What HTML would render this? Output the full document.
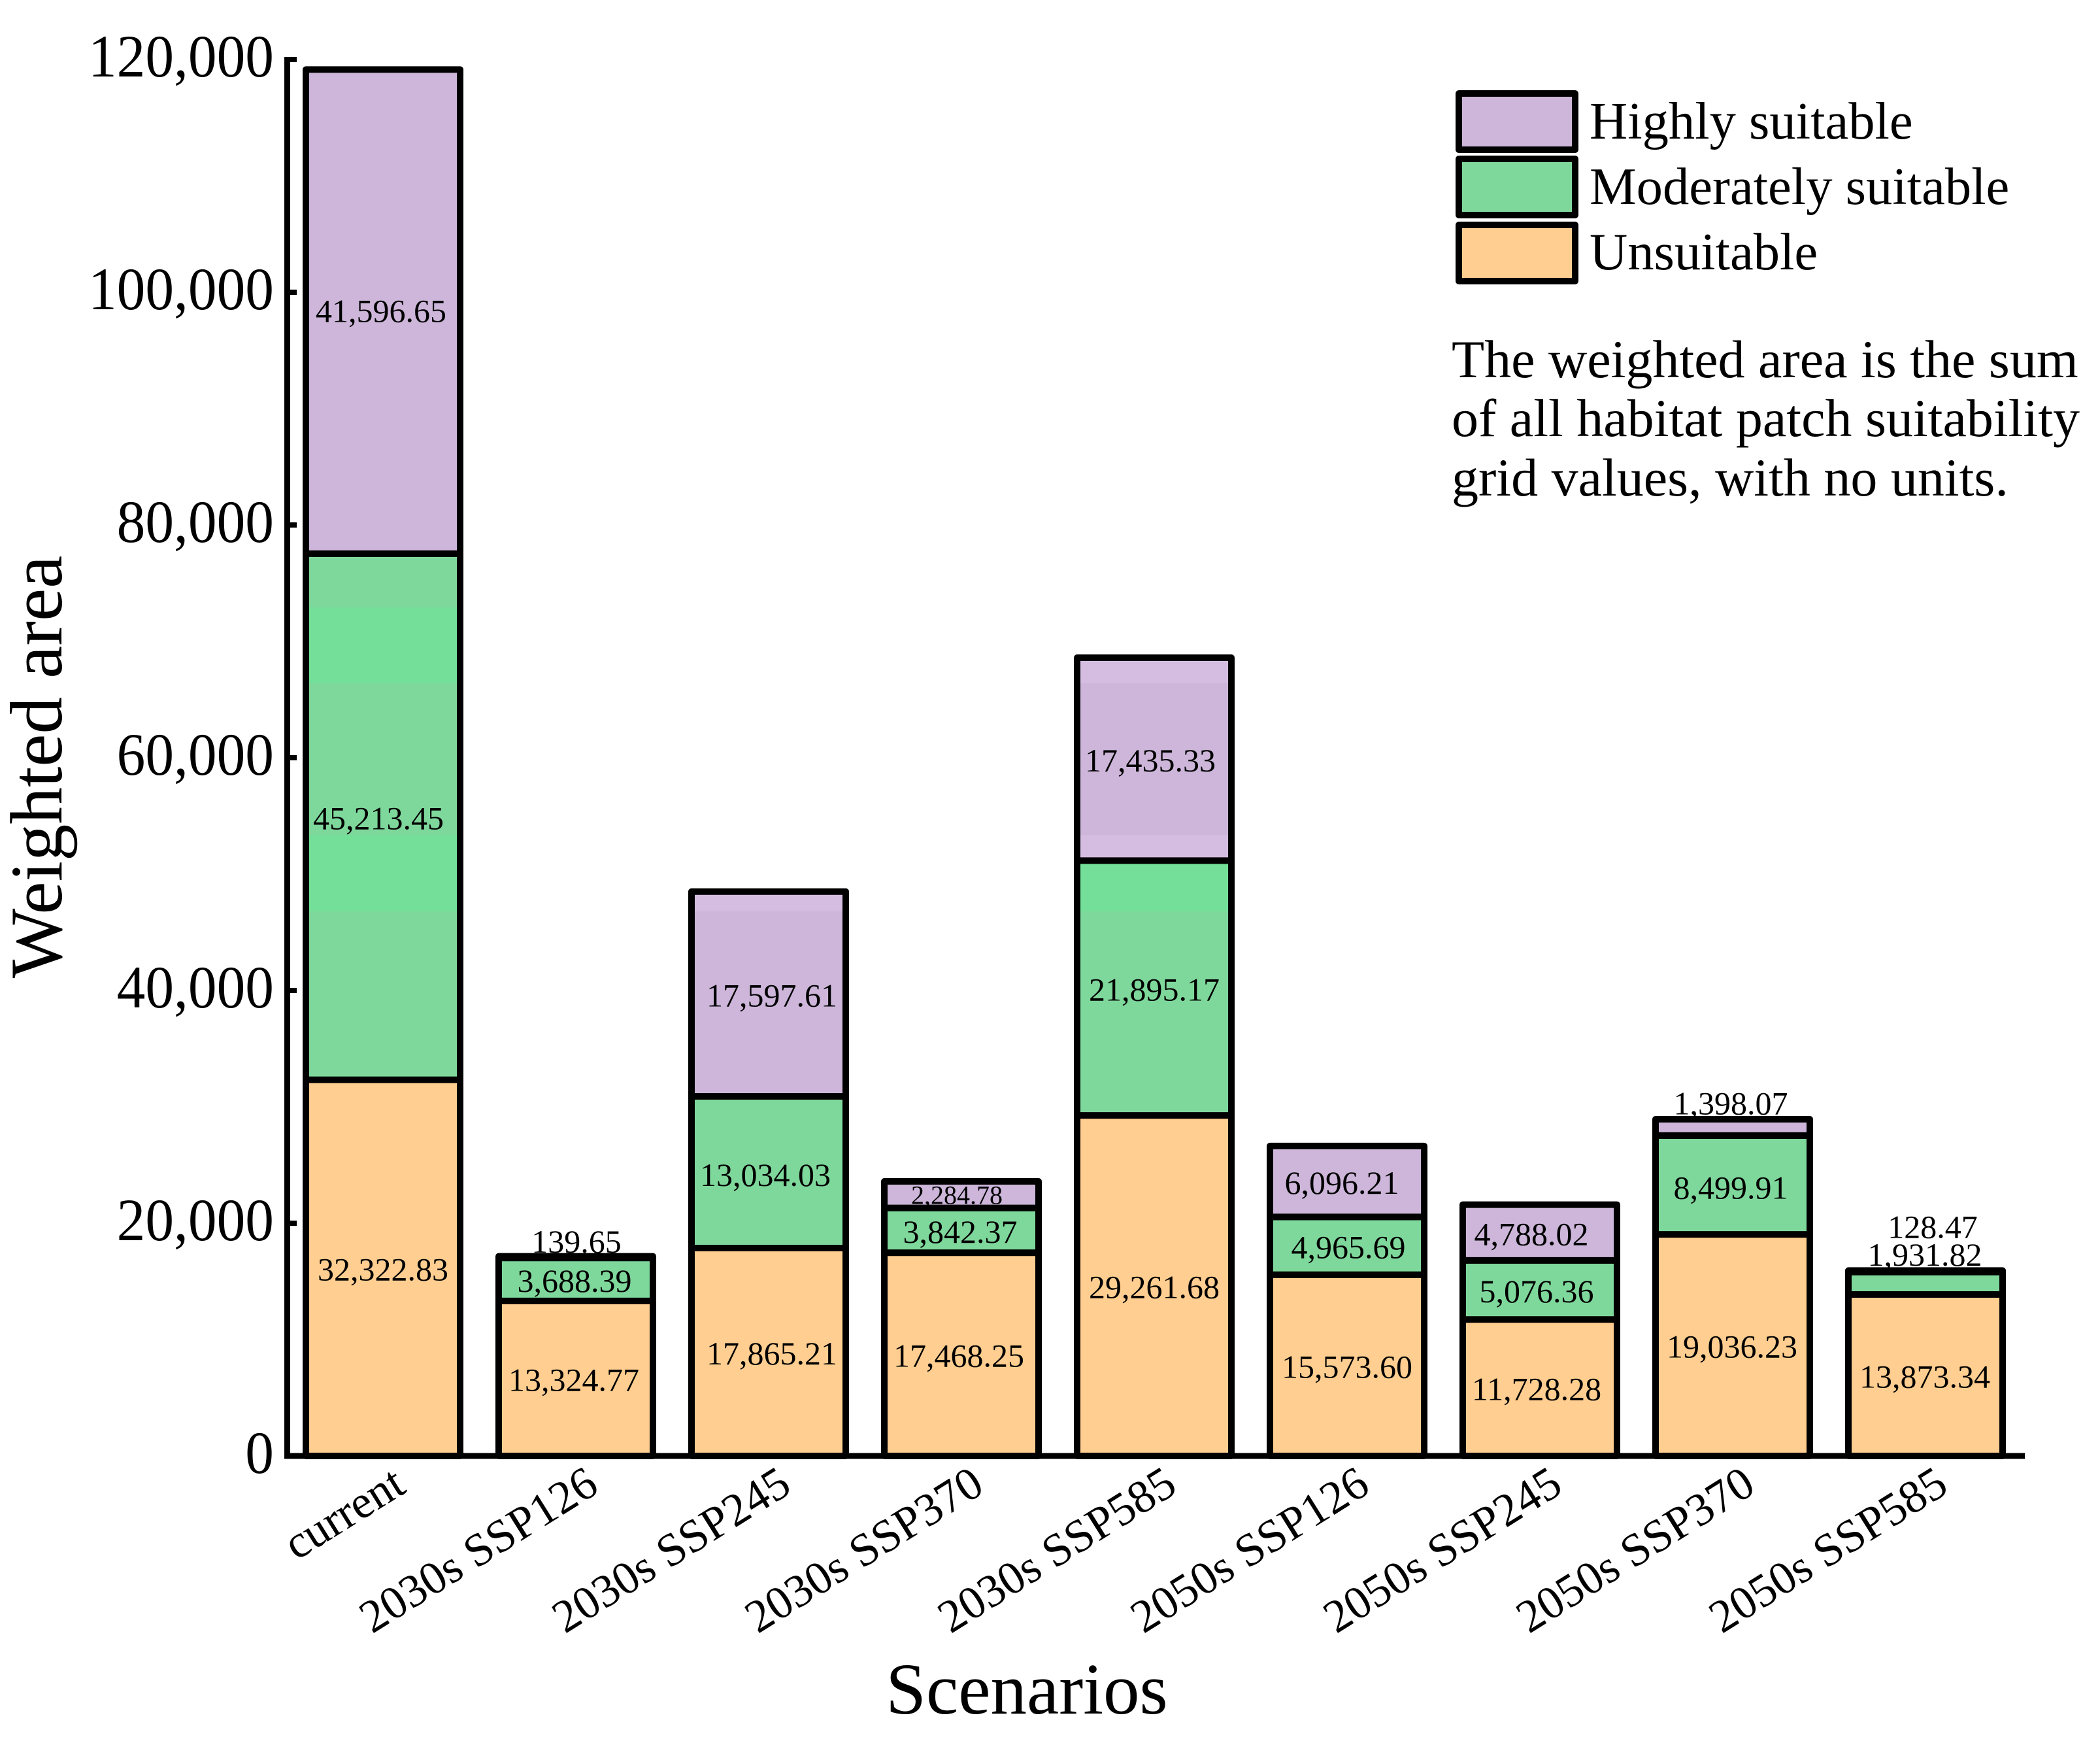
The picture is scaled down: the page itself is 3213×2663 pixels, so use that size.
<!DOCTYPE html>
<html lang="en">
<head>
<meta charset="utf-8">
<title>Weighted area by scenario</title>
<style>
html,body{margin:0;padding:0;background:#fff}
svg{display:block}
text{font-family:"Liberation Serif",serif;fill:#000}
</style>
</head>
<body>
<svg id="chart" xmlns="http://www.w3.org/2000/svg" width="3213" height="2663" viewBox="0 0 3213 2663">
  <defs>
    <linearGradient id="green-fill" gradientUnits="userSpaceOnUse" x1="0" y1="0" x2="0" y2="2663">
      <stop offset="0" stop-color="#7fd89b"/><stop offset="0.3489" stop-color="#7fd89b"/>
      <stop offset="0.3489" stop-color="#73df98"/><stop offset="0.3924" stop-color="#73df98"/>
      <stop offset="0.3924" stop-color="#7fd89b"/><stop offset="0.4795" stop-color="#7fd89b"/>
      <stop offset="0.4795" stop-color="#73df98"/><stop offset="0.5235" stop-color="#73df98"/>
      <stop offset="0.5235" stop-color="#7fd89b"/><stop offset="1" stop-color="#7fd89b"/>
    </linearGradient>
    <linearGradient id="purple-fill" gradientUnits="userSpaceOnUse" x1="0" y1="0" x2="0" y2="2663">
      <stop offset="0" stop-color="#cdb6da"/><stop offset="0.3489" stop-color="#cdb6da"/>
      <stop offset="0.3489" stop-color="#d4bde0"/><stop offset="0.3924" stop-color="#d4bde0"/>
      <stop offset="0.3924" stop-color="#cdb6da"/><stop offset="0.4795" stop-color="#cdb6da"/>
      <stop offset="0.4795" stop-color="#d4bde0"/><stop offset="0.5235" stop-color="#d4bde0"/>
      <stop offset="0.5235" stop-color="#cdb6da"/><stop offset="1" stop-color="#cdb6da"/>
    </linearGradient>
  </defs>
  <g id="bars"></g>
  <g id="value-labels"></g>
  <g id="axes"></g>

  <text transform="translate(94,1173) rotate(-90)" text-anchor="middle" font-size="113">Weighted area</text>
  <text x="1571" y="2621" text-anchor="middle" font-size="111">Scenarios</text>

  <g>
    <rect x="2232" y="143" width="178" height="86" fill="#cdb6da" stroke="#000" stroke-width="10" stroke-linejoin="round"/>
    <text x="2432" y="212" font-size="80.6">Highly suitable</text>
    <rect x="2232" y="243" width="178" height="86" fill="#7fd89b" stroke="#000" stroke-width="10" stroke-linejoin="round"/>
    <text x="2432" y="312" font-size="80.6">Moderately suitable</text>
    <rect x="2232" y="344" width="178" height="86" fill="#ffce90" stroke="#000" stroke-width="10" stroke-linejoin="round"/>
    <text x="2432" y="412" font-size="80.6">Unsuitable</text>
  </g>

  <g>
    <text x="2221" y="577" font-size="82">The weighted area is the sum</text>
    <text x="2221" y="667" font-size="82">of all habitat patch suitability</text>
    <text x="2221" y="758" font-size="82">grid values, with no units.</text>
  </g>

<script>
const categories = ["current","2030s SSP126","2030s SSP245","2030s SSP370","2030s SSP585","2050s SSP126","2050s SSP245","2050s SSP370","2050s SSP585"];
const unsuitable = [32322.83,13324.77,17865.21,17468.25,29261.68,15573.60,11728.28,19036.23,13873.34];
const moderatelySuitable = [45213.45,3688.39,13034.03,3842.37,21895.17,4965.69,5076.36,8499.91,1931.82];
const highlySuitable = [41596.65,139.65,17597.61,2284.78,17435.33,6096.21,4788.02,1398.07,128.47];
const yTickValues = [0,20000,40000,60000,80000,100000,120000];
const yTickLabels = ["0","20,000","40,000","60,000","80,000","100,000","120,000"];

const NS = "http://www.w3.org/2000/svg";
const barsG = document.getElementById("bars");
const labelsG = document.getElementById("value-labels");
const axesG = document.getElementById("axes");

function yScale(v){ return 2227 - v * 356 / 20000; }
function xScale(i){ return 586 + 295 * i; }

const barHalfWidth = 118;
const seriesFills = ["#ffce90","url(#green-fill)","url(#purple-fill)"];
const seriesKeys = ["unsuitable","moderately-suitable","highly-suitable"];
const seriesValues = [unsuitable, moderatelySuitable, highlySuitable];

// Hand-placement nudges of printed labels, "series-bar": [dx, dy, optional font size].
const labelNudge = {
  "1-0":[-7,0],"2-0":[-3,-3],
  "0-1":[-3,0],"1-1":[-2,0],"2-1":[1,-26],
  "0-2":[5,0],"1-2":[-5,2],"2-2":[5,0],
  "0-3":[-4,0],"1-3":[-2,0],"2-3":[-7,-5,40],
  "2-4":[-6,0],
  "1-5":[2,0],"2-5":[-8,0],
  "0-6":[-5,0],"1-6":[-5,0],"2-6":[-13,0],
  "0-7":[-1,0],"1-7":[-3,2],"2-7":[-3,-39],
  "0-8":[-1,0],"1-8":[-1,-46],"2-8":[11,-70]
};

function fmt(v){
  return v.toLocaleString("en-US",{minimumFractionDigits:2,maximumFractionDigits:2});
}

categories.forEach(function(cat,i){
  let base = 0;
  seriesValues.forEach(function(series,s){
    const v = series[i];
    const yTop = yScale(base + v);
    const yBottom = yScale(base);
    const rect = document.createElementNS(NS,"rect");
    
    
    rect.setAttribute("x", xScale(i) - barHalfWidth);
    rect.setAttribute("y", yTop);
    rect.setAttribute("width", barHalfWidth * 2);
    rect.setAttribute("height", yBottom - yTop);
    rect.setAttribute("fill", seriesFills[s]);
    rect.setAttribute("stroke", "#000");
    rect.setAttribute("stroke-width", "10");
    rect.setAttribute("stroke-linejoin", "round");
    barsG.appendChild(rect);

    const nudge = labelNudge[s + "-" + i] || [0,0];
    const label = document.createElementNS(NS,"text");
    
    
    label.setAttribute("x", xScale(i) + nudge[0]);
    label.setAttribute("y", (yTop + yBottom) / 2 + 19 + nudge[1]);
    label.setAttribute("text-anchor", "middle");
    label.setAttribute("font-size", nudge[2] || 50);
    label.textContent = fmt(v);
    labelsG.appendChild(label);

    base += v;
  });

  const tick = document.createElementNS(NS,"text");
  
  
  tick.setAttribute("transform", "translate(" + (xScale(i) + 38) + ",2281) rotate(-32)");
  tick.setAttribute("text-anchor", "end");
  tick.setAttribute("font-size", "71");
  tick.textContent = cat;
  axesG.appendChild(tick);
});

yTickValues.forEach(function(v,i){
  const y = yScale(v);
  const mark = document.createElementNS(NS,"rect");
  
  
  mark.setAttribute("x", 435);
  mark.setAttribute("y", y - 4);
  mark.setAttribute("width", 19);
  mark.setAttribute("height", 8);
  mark.setAttribute("fill", "#000");
  axesG.appendChild(mark);

  const t = document.createElementNS(NS,"text");
  
  
  t.setAttribute("transform", "translate(419," + (y + 26) + ") scale(0.95,1)");
  t.setAttribute("text-anchor", "end");
  t.setAttribute("font-size", "92");
  t.textContent = yTickLabels[i];
  axesG.appendChild(t);
});

const yAxis = document.createElementNS(NS,"rect");


yAxis.setAttribute("x", 435);
yAxis.setAttribute("y", yScale(120000) - 4);
yAxis.setAttribute("width", 9);
yAxis.setAttribute("height", yScale(0) - yScale(120000) + 8);
yAxis.setAttribute("fill", "#000");
axesG.appendChild(yAxis);

const xAxis = document.createElementNS(NS,"rect");


xAxis.setAttribute("x", 435);
xAxis.setAttribute("y", yScale(0) - 4.5);
xAxis.setAttribute("width", 3098 - 435);
xAxis.setAttribute("height", 9);
xAxis.setAttribute("fill", "#000");
axesG.appendChild(xAxis);
</script>
</svg>
</body>
</html>
